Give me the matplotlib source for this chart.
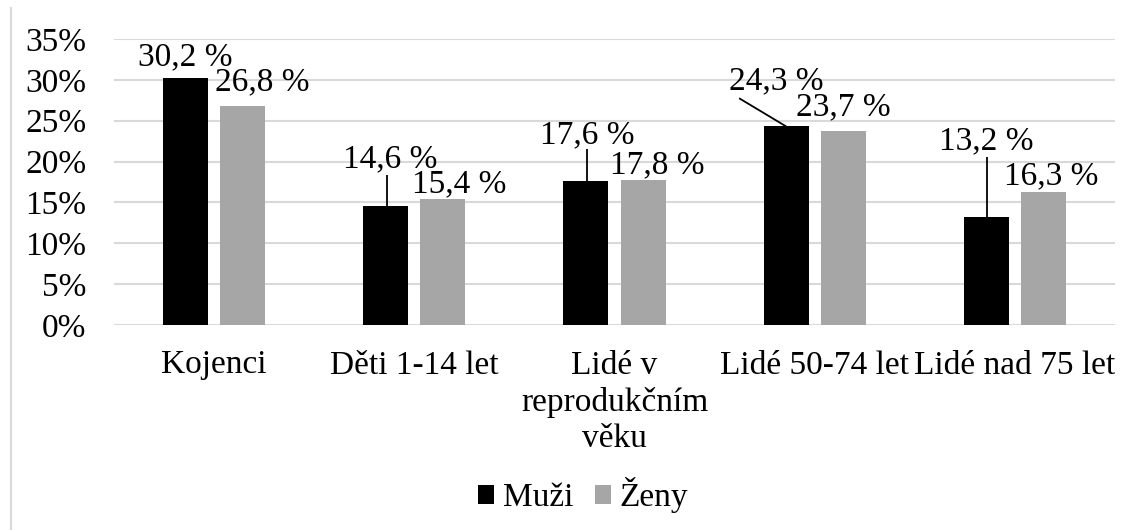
import matplotlib.pyplot as plt
import numpy as np

kategorie = ["Kojenci", "Děti 1-14 let", "Lidé v\nreprodukčním\nvěku", "Lidé 50-74 let", "Lidé nad 75 let"]
muzi = [30.2, 14.6, 17.6, 24.3, 13.2]
zeny = [26.8, 15.4, 17.8, 23.7, 16.3]
popisky_muzi = ["30,2 %", "14,6 %", "17,6 %", "24,3 %", "13,2 %"]
popisky_zeny = ["26,8 %", "15,4 %", "17,8 %", "23,7 %", "16,3 %"]

plt.rcParams['font.family'] = ['Liberation Serif', 'DejaVu Serif']

fig = plt.figure(figsize=(11.34, 5.30), dpi=100)
ax = fig.add_axes([114 / 1134, 1 - 325 / 530, 1001 / 1134, 286 / 530])

x = np.arange(len(kategorie))
sirka = 0.225
posun = 0.1425

ax.bar(x - posun, muzi, sirka, color='black', label='Muži', zorder=3)
ax.bar(x + posun, zeny, sirka, color='#A6A6A6', label='Ženy', zorder=3)

# popisky - posun textu od vrcholu sloupce (dx v kategoriich, dy v procentech)
posuny_muzi = [(0.0, 2.65), (0.02, 5.7), (0.005, 5.6), (-0.05, 5.6), (0.0, 9.3)]
posuny_zeny = [(0.0975, 2.9), (0.08, 1.8), (0.07, 1.8), (0.0, 3.0), (0.04, 1.9)]
# odkazove cary: (x zacatku vuci sloupci, y zacatku) nebo None
cary_muzi = [None, (0.005, 18.3), (0.005, 21.5), (-0.235, 27.75), (0.005, 20.5)]

for i in range(len(kategorie)):
    xb = x[i] - posun
    dx, dy = posuny_muzi[i]
    ax.text(xb + dx, muzi[i] + dy, popisky_muzi[i], ha='center', va='center', fontsize=24, zorder=5)
    if cary_muzi[i] is not None:
        cx, cy = cary_muzi[i]
        konec = 0.005 if cx > 0 else 0.0
        ax.plot([xb + cx, xb + konec], [cy, muzi[i]], color='black', lw=1.3, zorder=4,
                solid_capstyle='butt')
    xz = x[i] + posun
    dx, dy = posuny_zeny[i]
    ax.text(xz + dx, zeny[i] + dy, popisky_zeny[i], ha='center', va='center', fontsize=24, zorder=5)

ax.set_ylim(0, 35)
ax.set_xlim(-0.5, len(kategorie) - 0.5)
ax.set_yticks(range(0, 36, 5))
ax.set_yticklabels([f"{v}%" for v in range(0, 36, 5)])
ax.set_xticks(x)
ax.set_xticklabels(kategorie, linespacing=1.25)
ax.tick_params(axis='y', length=0, labelsize=24, pad=20)
ax.tick_params(axis='x', length=0, labelsize=24, pad=18)
ax.grid(axis='y', color='#D9D9D9', lw=1.5, zorder=0)
for s in ax.spines.values():
    s.set_visible(False)

leg = fig.legend(loc='center', bbox_to_anchor=(583 / 1134, 1 - 495 / 530), ncol=2, frameon=False,
                 fontsize=24, handlelength=0.5, handleheight=0.5, handletextpad=0.25, columnspacing=0.65)

# okraj grafu vlevo
fig.add_artist(plt.Line2D([11 / 1134, 11 / 1134], [0, 1 - 8 / 530], color='#D9D9D9', lw=1.5))

fig.savefig("out.png", dpi=100)
